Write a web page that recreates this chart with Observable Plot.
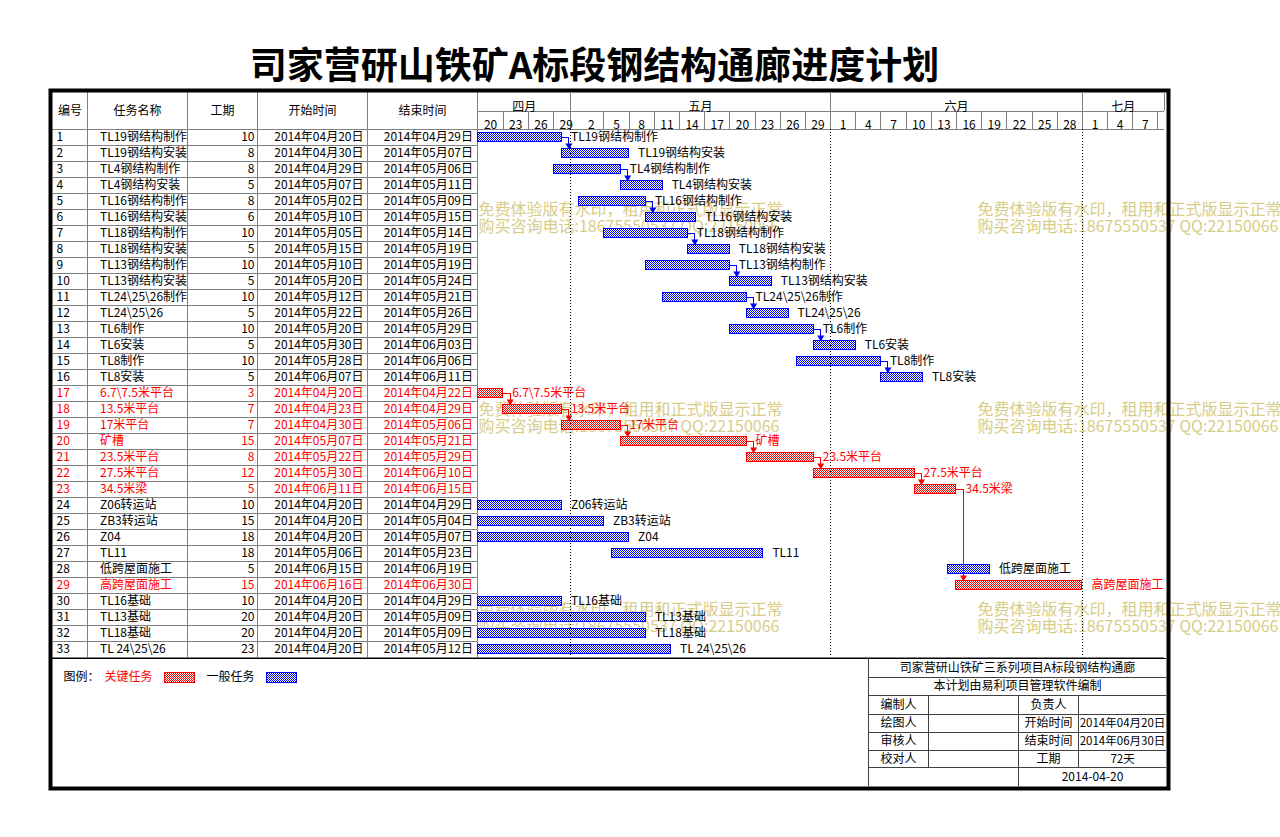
<!DOCTYPE html>
<html><head><meta charset="utf-8">
<script src="https://cdn.jsdelivr.net/npm/d3@7"></script>
<script src="https://cdn.jsdelivr.net/npm/@observablehq/plot@0.6"></script>
<style>
body{margin:0;background:#fff;}
#wrap{position:relative;width:1280px;height:837px;overflow:hidden;background:#fff;}
#wrap svg{position:absolute;left:0;top:0;}
</style></head><body><div id="wrap"></div>
<script>
// ---------- data ----------
const chartTitle = "司家营研山铁矿A标段钢结构通廊进度计划";
const taskNames = ["TL19钢结构制作","TL19钢结构安装","TL4钢结构制作","TL4钢结构安装","TL16钢结构制作","TL16钢结构安装","TL18钢结构制作","TL18钢结构安装","TL13钢结构制作","TL13钢结构安装","TL24\\25\\26制作","TL24\\25\\26","TL6制作","TL6安装","TL8制作","TL8安装","6.7\\7.5米平台","13.5米平台","17米平台","矿槽","23.5米平台","27.5米平台","34.5米梁","Z06转运站","ZB3转运站","Z04","TL11","低跨屋面施工","高跨屋面施工","TL16基础","TL13基础","TL18基础","TL 24\\25\\26"];
const durations = [10,8,8,5,8,6,10,5,10,5,10,5,10,5,10,5,3,7,7,15,8,12,5,10,15,18,18,5,15,10,20,20,23];
const startDates = ["2014-04-20","2014-04-30","2014-04-29","2014-05-07","2014-05-02","2014-05-10","2014-05-05","2014-05-15","2014-05-10","2014-05-20","2014-05-12","2014-05-22","2014-05-20","2014-05-30","2014-05-28","2014-06-07","2014-04-20","2014-04-23","2014-04-30","2014-05-07","2014-05-22","2014-05-30","2014-06-11","2014-04-20","2014-04-20","2014-04-20","2014-05-06","2014-06-15","2014-06-16","2014-04-20","2014-04-20","2014-04-20","2014-04-20"];
const endDates = ["2014-04-29","2014-05-07","2014-05-06","2014-05-11","2014-05-09","2014-05-15","2014-05-14","2014-05-19","2014-05-19","2014-05-24","2014-05-21","2014-05-26","2014-05-29","2014-06-03","2014-06-06","2014-06-11","2014-04-22","2014-04-29","2014-05-06","2014-05-21","2014-05-29","2014-06-10","2014-06-15","2014-04-29","2014-05-04","2014-05-07","2014-05-23","2014-06-19","2014-06-30","2014-04-29","2014-05-09","2014-05-09","2014-05-12"];
const criticalIds = [17,18,19,20,21,22,23,29];
const links = [[1,2],[3,4],[5,6],[7,8],[9,10],[11,12],[13,14],[15,16],[17,18],[18,19],[19,20],[20,21],[21,22],[22,23],[23,29]];
const monthNames = ["四月","五月","六月","七月"];
const monthStarts = ["2014-04-20","2014-05-01","2014-06-01","2014-07-01"];
const ganttEnd = "2014-07-10T18:00:00Z";
const dayTickDates = ["2014-04-20","2014-04-23","2014-04-26","2014-04-29","2014-05-02","2014-05-05","2014-05-08","2014-05-11","2014-05-14","2014-05-17","2014-05-20","2014-05-23","2014-05-26","2014-05-29","2014-06-01","2014-06-04","2014-06-07","2014-06-10","2014-06-13","2014-06-16","2014-06-19","2014-06-22","2014-06-25","2014-06-28","2014-07-01","2014-07-04","2014-07-07"];
const dayTickLabels = ["20","23","26","29","2","5","8","11","14","17","20","23","26","29","1","4","7","10","13","16","19","22","25","28","1","4","7"];
const columnHeaders = ["编号","任务名称","工期","开始时间","结束时间"];
const legendTitle = "图例：";
const legendItems = ["关键任务","一般任务"];
const blockTitle = "司家营研山铁矿三系列项目A标段钢结构通廊";
const blockSub = "本计划由易利项目管理软件编制";
const blockLeftLabels = ["编制人","绘图人","审核人","校对人"];
const blockRightLabels = ["负责人","开始时间","结束时间","工期"];
const blockRightValues = ["","2014年04月20日","2014年06月30日","72天"];
const blockDate = "2014-04-20";
const watermark = ["免费体验版有水印，租用和正式版显示正常","购买咨询电话:18675550537 QQ:22150066"];

// ---------- build ----------
const W = 1280, H = 837;
const parse = s => new Date(s.length === 10 ? s + "T00:00:00Z" : s);
const fmt = d3.utcFormat("%Y年%m月%d日");
const RED = "#ff0000", BLUE = "#0000ff", GRAY = "#808080";
const tasks = taskNames.map((name, i) => {
  const start = parse(startDates[i]), end = parse(endDates[i]);
  return {id: i + 1, name, dur: durations[i], start, end, endNext: d3.utcDay.offset(end, 1), crit: criticalIds.includes(i + 1)};
});
const deps = links.map(([a, b]) => ({from: tasks[a - 1], to: tasks[b - 1]}));
const months = monthNames.map((m, i) => {
  const a = parse(monthStarts[i]);
  const b = i + 1 < monthStarts.length ? parse(monthStarts[i + 1]) : parse(ganttEnd);
  return {name: m, mid: new Date((+a + +b) / 2)};
});
const mStarts = monthStarts.map(parse);
const ticks = dayTickDates.map((d, i) => ({date: parse(d), label: dayTickLabels[i]}));
const dayLines = ticks.slice(1).map(t => {
  const m = mStarts.find(ms => +t.date - +ms === 864e5);
  return m || t.date;
}).concat([d3.utcDay.offset(ticks[ticks.length - 1].date, 3)]);
const txtColor = d => d.crit ? RED : "#000000";
const barColor = d => d.crit ? RED : BLUE;
const style = {fontFamily: "'Noto Sans CJK SC', 'Noto Sans', sans-serif", fontSize: "12px", background: "transparent", overflow: "visible"};

// ---------- layout layer (pixel identity) ----------
const rowTop = 129, rowH = 16, rowsBottom = rowTop + rowH * tasks.length;
const colLines = [87, 187, 257, 367, 477];
const colCenters = [69.5, 137, 222, 312, 422];
const tbY = [658, 677, 695, 714, 732, 750, 767, 786];
const tbMid = tbY.slice(0, -1).map((y, i) => (y + tbY[i + 1]) / 2);
const wmPos = [];
[478, 977].forEach(x => [[209, 226], [409, 426], [609, 626]].forEach(([y1, y2]) => {
  wmPos.push({x, y: y1, t: watermark[0]}, {x, y: y2, t: watermark[1]});
}));
const hLinesA = [
  {y: 111, x1: 477, x2: 1164, s: GRAY},
  {y: 129, x1: 52, x2: 1164, s: GRAY},
  {y: rowsBottom, x1: 52, x2: 1164, s: GRAY},
  {y: 658, x1: 52, x2: 1166, s: "#000"},
  ...tbY.slice(1, -1).map((y, i) => ({y, x1: 868, x2: 1166, s: "#404040"}))
];
const vLinesA = [
  ...colLines.map(x => ({x, y1: 92, y2: rowsBottom, s: GRAY})),
  {x: 868, y1: 658, y2: 786, s: "#404040"},
  {x: 928, y1: tbY[2], y2: tbY[6], s: "#404040"},
  {x: 1018, y1: tbY[2], y2: tbY[7], s: "#404040"},
  {x: 1078, y1: tbY[2], y2: tbY[6], s: "#404040"}
];
const blockTexts = [
  {x: 1017, y: tbMid[0], t: blockTitle, f: 12},
  {x: 1017, y: tbMid[1], t: blockSub, f: 12},
  ...blockLeftLabels.map((t, i) => ({x: 898, y: tbMid[2 + i], t, f: 12})),
  ...blockRightLabels.map((t, i) => ({x: 1048, y: tbMid[2 + i], t, f: 12})),
  ...blockRightValues.map((t, i) => ({x: 1122, y: tbMid[2 + i], t, f: 11.5})),
  {x: 1092, y: tbMid[6], t: blockDate, f: 12}
];

const plotA = Plot.plot({
  width: W, height: H, margin: 0, style,
  x: {type: "identity", axis: null}, y: {type: "identity", axis: null},
  color: {type: "identity"},
  marks: [
    Plot.text(wmPos, {x: "x", y: "y", text: "t", textAnchor: "start", fontSize: 16, fill: "#d8cd88"}),
    Plot.text([chartTitle], {x: 594, y: 67, text: d => d, fontSize: 37, fontWeight: "bold", fill: "#000"}),
    Plot.ruleY(hLinesA, {y: "y", x1: "x1", x2: "x2", stroke: "s"}),
    Plot.ruleX(vLinesA, {x: "x", y1: "y1", y2: "y2", stroke: "s"}),
    Plot.text(columnHeaders, {x: (d, i) => colCenters[i], y: 111, text: d => d, fill: "#000"}),
    Plot.text(blockTexts, {x: "x", y: "y", text: "t", fontSize: "f", fill: "#000"}),
    Plot.text([legendTitle], {x: 63, y: 677, text: d => d, textAnchor: "start", fill: "#000"}),
    Plot.text(legendItems, {x: (d, i) => [104, 206][i], y: 677, text: d => d, textAnchor: "start", fill: (d, i) => [RED, "#000"][i]}),
    Plot.rect(legendItems, {x1: (d, i) => [164, 266][i], x2: (d, i) => [194, 296][i], y1: 672, y2: 682, fill: (d, i) => ["url(#pr)", "url(#pb)"][i], stroke: (d, i) => [RED, BLUE][i], shapeRendering: "crispEdges"}),
    Plot.rect([0], {x1: 50.5, x2: 1168.5, y1: 90.5, y2: 788.5, fill: "none", stroke: "#000", strokeWidth: 4})
  ]
});
(function addPatterns(svg) {
  const defs = d3.select(svg).insert("defs", ":first-child");
  [["pb", BLUE], ["pr", RED]].forEach(([id, c]) => {
    const p = defs.append("pattern").attr("id", id).attr("width", 2).attr("height", 2).attr("patternUnits", "userSpaceOnUse");
    p.append("rect").attr("width", 2).attr("height", 2).attr("fill", "#fff");
    p.append("rect").attr("width", 1).attr("height", 1).attr("fill", c);
    p.append("rect").attr("x", 1).attr("y", 1).attr("width", 1).attr("height", 1).attr("fill", c);
  });
})(plotA);

// ---------- data layer ----------
const crisp = {shapeRendering: "crispEdges"};
const plotB = Plot.plot({
  width: W, height: H, margin: 0, style,
  x: {type: "utc", domain: [parse("2014-04-20"), parse("2014-07-01")], range: [477.5, 1081.9], axis: null},
  y: {type: "linear", domain: [0.5, tasks.length + 0.5], range: [rowTop, rowsBottom], axis: null},
  color: {type: "identity"},
  marks: [
    // table row lines
    Plot.ruleY(tasks.slice(0, -1), {y: d => d.id + 0.5, insetLeft: 52, insetRight: W - 477, stroke: GRAY, ...crisp}),
    // table body text
    Plot.text(tasks, {y: "id", text: d => String(d.id), frameAnchor: "left", dx: 56, textAnchor: "start", fill: txtColor}),
    Plot.text(tasks, {y: "id", text: "name", frameAnchor: "left", dx: 99.5, textAnchor: "start", fill: txtColor}),
    Plot.text(tasks, {y: "id", text: d => String(d.dur), frameAnchor: "left", dx: 254, textAnchor: "end", fill: txtColor}),
    Plot.text(tasks, {y: "id", text: d => fmt(d.start), frameAnchor: "left", dx: 363, textAnchor: "end", fill: txtColor}),
    Plot.text(tasks, {y: "id", text: d => fmt(d.end), frameAnchor: "left", dx: 472.5, textAnchor: "end", fill: txtColor}),
    // time header
    Plot.ruleX([...mStarts.slice(1), parse(ganttEnd)], {x: d => d, insetTop: 92, insetBottom: H - 111, stroke: GRAY, ...crisp}),
    Plot.ruleX(dayLines, {x: d => d, insetTop: 111, insetBottom: H - 129, stroke: GRAY, ...crisp}),
    Plot.text(months, {x: "mid", text: "name", frameAnchor: "top", dy: 102, fill: "#000"}),
    Plot.text(ticks, {x: d => d3.utcHour.offset(d.date, 36), text: "label", frameAnchor: "top", dy: 120, fill: "#000"}),
    // bars
    Plot.rect(tasks, {x1: "start", x2: "endNext", y1: d => d.id - 0.5, y2: d => d.id + 0.5, insetTop: 3, insetBottom: 4,
      fill: d => d.crit ? "url(#pr)" : "url(#pb)", stroke: barColor, strokeWidth: 1, ...crisp}),
    // bar labels
    Plot.text(tasks, {x: "endNext", y: "id", text: "name", dx: 9, textAnchor: "start", fill: txtColor}),
    // dependency connectors
    Plot.ruleY(deps, {y: d => d.from.id, x1: d => d.from.endNext, x2: d => d.from.endNext, insetRight: -7, stroke: d => barColor(d.from), ...crisp}),
    Plot.ruleX(deps, {x: d => d.from.endNext, dx: 7, y1: d => d.from.id, y2: d => d.to.id, insetBottom: 8, stroke: d => barColor(d.from), ...crisp}),
    Plot.dot(deps, {x: d => d.from.endNext, y: d => d.to.id, dx: 7, dy: -8, symbol: "triangle", r: 2.6, rotate: 180, fill: d => barColor(d.from), stroke: "none"}),
    // month dotted lines
    Plot.ruleX(mStarts.slice(1), {x: d => d, insetTop: rowTop, insetBottom: H - rowsBottom, stroke: "#000", strokeDasharray: "1,2", ...crisp})
  ]
});

const wrap = document.getElementById("wrap");
wrap.appendChild(plotA);
wrap.appendChild(plotB);
</script>
</body></html>
